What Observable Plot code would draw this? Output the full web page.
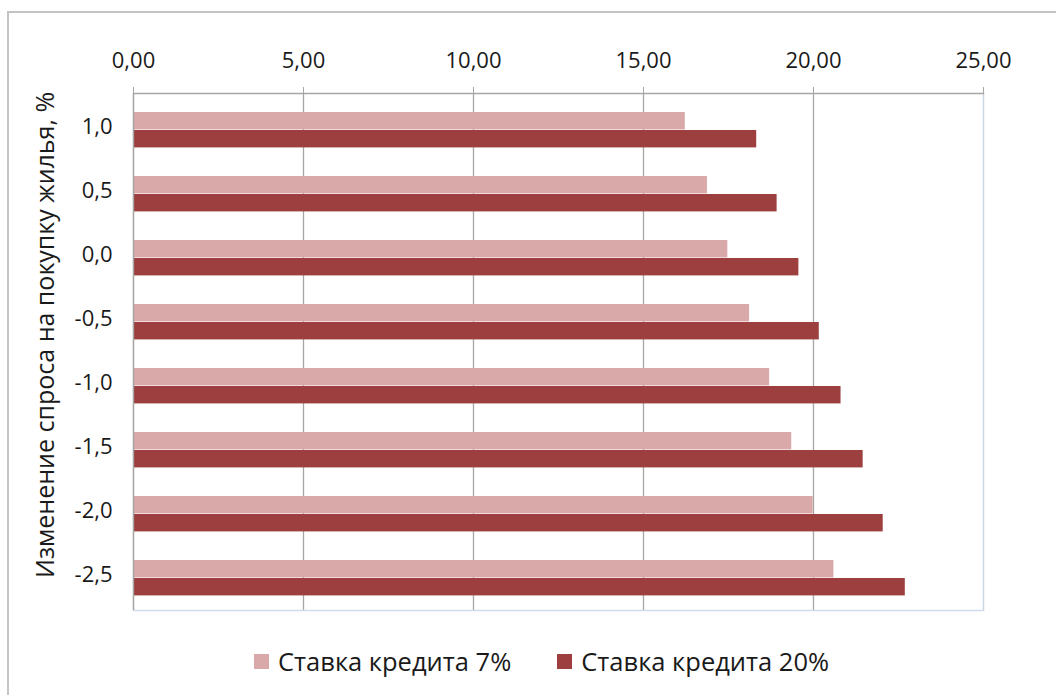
<!DOCTYPE html>
<html>
<head>
<meta charset="utf-8">
<script src="https://cdn.jsdelivr.net/npm/d3@7"></script>
<script src="https://cdn.jsdelivr.net/npm/@observablehq/plot@0.6"></script>
<style>
  html, body { margin: 0; padding: 0; background: #fff; }
  body { width: 1056px; height: 695px; position: relative; overflow: hidden; font-family: "Open Sans", sans-serif; }
  #border { position: absolute; left: 7px; top: 11px; width: 1060px; height: 700px; border: 2px solid #c4c4c4; box-sizing: border-box; }
  #chart { position: absolute; left: 0; top: 0; }
  #ytitle { position: absolute; left: 44px; top: 335px; transform: translate(-50%, -50%) rotate(-90deg); white-space: nowrap; font-size: 25px; color: #1a1a1a; }
  #legend { position: absolute; top: 644px; left: 254px; display: flex; gap: 46px; font-size: 25.5px; color: #1a1a1a; }
  .item { display: flex; align-items: center; gap: 9px; }
  .sw { width: 15px; height: 15px; display: inline-block; }
</style>
</head>
<body>
<div id="border"></div>
<div id="chart"></div>
<div id="ytitle">Изменение спроса на покупку жилья, %</div>
<div id="legend"></div>
<script>
const categories = ["1,0", "0,5", "0,0", "-0,5", "-1,0", "-1,5", "-2,0", "-2,5"];
const seriesNames = ["Ставка кредита 7%", "Ставка кредита 20%"];
const rate7 = [16.23, 16.88, 17.48, 18.12, 18.71, 19.36, 19.99, 20.60];
const rate20 = [18.33, 18.93, 19.57, 20.17, 20.81, 21.46, 22.05, 22.70];
const xTicks = [0, 5, 10, 15, 20, 25];
const colors = ["#d9a9a9", "#9d3f3e"];

const rows7 = categories.map((c, i) => ({cat: c, value: rate7[i]}));
const rows20 = categories.map((c, i) => ({cat: c, value: rate20[i]}));

const W = 1056, H = 640;
const plot = Plot.plot({
  width: W,
  height: H,
  marginLeft: 133,
  marginRight: 73,
  marginTop: 93,
  marginBottom: H - 610,
  style: { fontFamily: "Open Sans, sans-serif", fontSize: "22px", color: "#1a1a1a", background: "transparent" },
  x: { domain: [0, 25], ticks: xTicks },
  y: { domain: categories, padding: 0 },
  marks: [
    Plot.gridX(xTicks.filter(d => d < 25), { stroke: "#a6a6a6", strokeOpacity: 1, strokeWidth: 1.3 }),
    Plot.gridX([25], { stroke: "#c9d6e6", strokeOpacity: 1, strokeWidth: 1.5 }),
    Plot.barX(rows7, { x: "value", y: "cat", fill: colors[0], insetTop: 16, insetBottom: 30.6 }),
    Plot.barX(rows20, { x: "value", y: "cat", fill: colors[1], insetTop: 34, insetBottom: 12.6 }),
    Plot.frame({ anchor: "bottom", stroke: "#d0dcea", strokeWidth: 1.5 }),
    Plot.frame({ anchor: "top", stroke: "#a6a6a6", strokeWidth: 1.3 }),
    Plot.ruleX([0], { stroke: "#a6a6a6", strokeWidth: 1.3 }),
    Plot.axisX(xTicks, { anchor: "top", tickSize: 7, tickPadding: 19, stroke: "#a6a6a6", tickFormat: d => d.toFixed(2).replace(".", ","), label: null }),
    Plot.axisY({ anchor: "left", tickSize: 0, tickPadding: 21, dy: -2, label: null })
  ]
});
document.getElementById("chart").appendChild(plot);

const legend = document.getElementById("legend");
seriesNames.forEach((name, i) => {
  const item = document.createElement("div");
  item.className = "item";
  const sw = document.createElement("span");
  sw.className = "sw";
  sw.style.background = colors[i];
  const t = document.createElement("span");
  t.textContent = name;
  item.appendChild(sw);
  item.appendChild(t);
  legend.appendChild(item);
});
</script>
</body>
</html>
